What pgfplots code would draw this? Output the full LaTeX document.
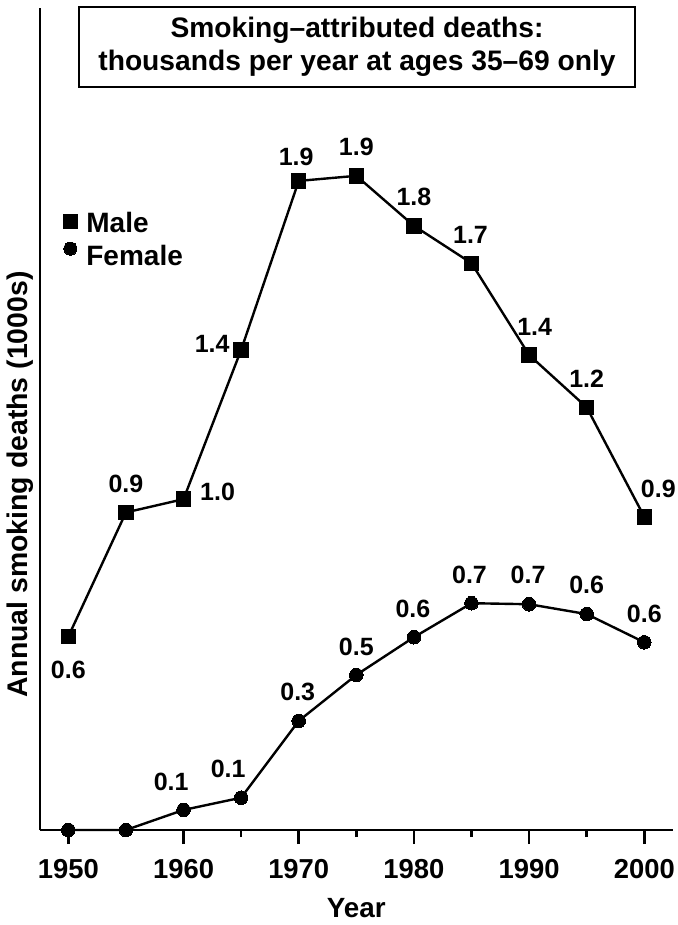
\documentclass[border=0pt]{standalone}
\usepackage{pgfplots}
\pgfplotsset{compat=1.18}
\usepackage{pgfplotstable}
\usepackage{fontspec}
\setmainfont{Liberation Sans}

\pgfplotstableread{
x y lab dx dy
1950 0.569 0.6 0 -16.5
1955 0.934 0.9 0 14.5
1960 0.973 1.0 17 3.5
1965 1.412 1.4 -14.5 3.3
1970 1.909 1.9 -1.3 12.2
1975 1.924 1.9 0 14.5
1980 1.777 1.8 0 14.5
1985 1.667 1.7 -0.5 14.2
1990 1.397 1.4 2.8 14.2
1995 1.243 1.2 0 14.5
2000 0.921 0.9 7 14.2
}\maletab

\pgfplotstableread{
x y lab dx dy
1950 0.000 {} 0 14
1955 0.000 {} 0 14
1960 0.059 0.1 -6.2 14.2
1965 0.095 0.1 -6.5 14.7
1970 0.321 0.3 -0.5 14.5
1975 0.456 0.5 0 13.9
1980 0.567 0.6 -0.5 14
1985 0.667 0.7 -1 14.2
1990 0.664 0.7 -0.5 14.7
1995 0.635 0.6 0 14.5
2000 0.552 0.6 0 14.5
}\femaletab

\begin{document}
\begin{tikzpicture}
\path[use as bounding box] (-20pt,-47.5pt) rectangle (319pt,415pt);
\begin{axis}[
  at={(0pt,0pt)}, anchor=south west,
  scale only axis, width=316.5pt, height=411pt,
  xmin=1947.54, xmax=2002.49, ymin=0, ymax=2.4176,
  axis x line*=bottom, axis y line*=left,
  axis line style={line width=1.3pt, black},
  clip=false,
  xtick={1950,1960,...,2000},
  minor xtick={1955,1965,...,1995},
  ytick=\empty,
  tick align=outside,
  major tick length=7pt, minor tick length=3.5pt,
  tick style={black, line width=1.3pt},
  /pgf/number format/1000 sep={},
  /pgf/number format/assume math mode=true,
  xticklabel style={font=\fontsize{13.7}{16}\selectfont\bfseries, yshift=-4pt},
  xlabel={Year},
  xlabel style={at={(rel axis cs:0.4997,-0.0949)}, anchor=center, font=\fontsize{13.9}{16}\selectfont\bfseries},
  ylabel={Annual smoking deaths (1000s)},
  ylabel style={at={(rel axis cs:-0.0316,0.4203)}, anchor=center, font=\fontsize{14.2}{16}\selectfont\bfseries},
  every axis title shift=0pt,
  title={Smoking–attributed deaths:\\thousands per year at ages 35–69 only},
  title style={at={(rel axis cs:0.5008,0.9526)}, anchor=center, yshift=0pt, draw=black, line width=1.3pt, align=center, minimum width=278pt, minimum height=40pt, inner sep=0pt, font=\fontsize{14.1}{16.5}\selectfont\bfseries},
  legend image code/.code={\draw[#1] plot coordinates {(0pt,0pt)};},
  legend cell align=left,
  legend style={draw=none, fill=none, inner sep=0pt, at={(rel axis cs:0.0363,0.7516)}, anchor=north west, row sep=3.1pt, column sep=4.5pt, nodes={inner sep=0pt}, font=\fontsize{14}{16}\selectfont\bfseries},
]
\addplot[forget plot, black, line width=1.2pt, mark=square*, mark size=3.6pt, mark options={solid, fill=black, line width=0pt},
  nodes near coords, point meta=explicit symbolic,
  visualization depends on={\thisrow{dx} \as \dx},
  visualization depends on={\thisrow{dy} \as \dy},
  every node near coord/.append style={anchor=south, inner sep=0pt, xshift=\dx pt, yshift=\dy pt-4.5pt, font=\fontsize{12.5}{14}\selectfont\bfseries, text=black}
] table[x=x, y=y, meta=lab] {\maletab};
\addplot[forget plot, black, line width=1.2pt, mark=*, mark size=3.4pt, mark options={solid, fill=black, line width=0pt},
  nodes near coords, point meta=explicit symbolic,
  visualization depends on={\thisrow{dx} \as \dx},
  visualization depends on={\thisrow{dy} \as \dy},
  every node near coord/.append style={anchor=south, inner sep=0pt, xshift=\dx pt, yshift=\dy pt-4.5pt, font=\fontsize{12.5}{14}\selectfont\bfseries, text=black}
] table[x=x, y=y, meta=lab] {\femaletab};
\addlegendimage{only marks, black, mark=square*, mark size=3.5pt, mark options={fill=black, line width=0pt, yshift=1.4pt}}
\addlegendentry{Male}
\addlegendimage{only marks, black, mark=*, mark size=3.3pt, mark options={fill=black, line width=0pt, yshift=4.3pt}}
\addlegendentry{Female}
\end{axis}
\end{tikzpicture}
\end{document}
